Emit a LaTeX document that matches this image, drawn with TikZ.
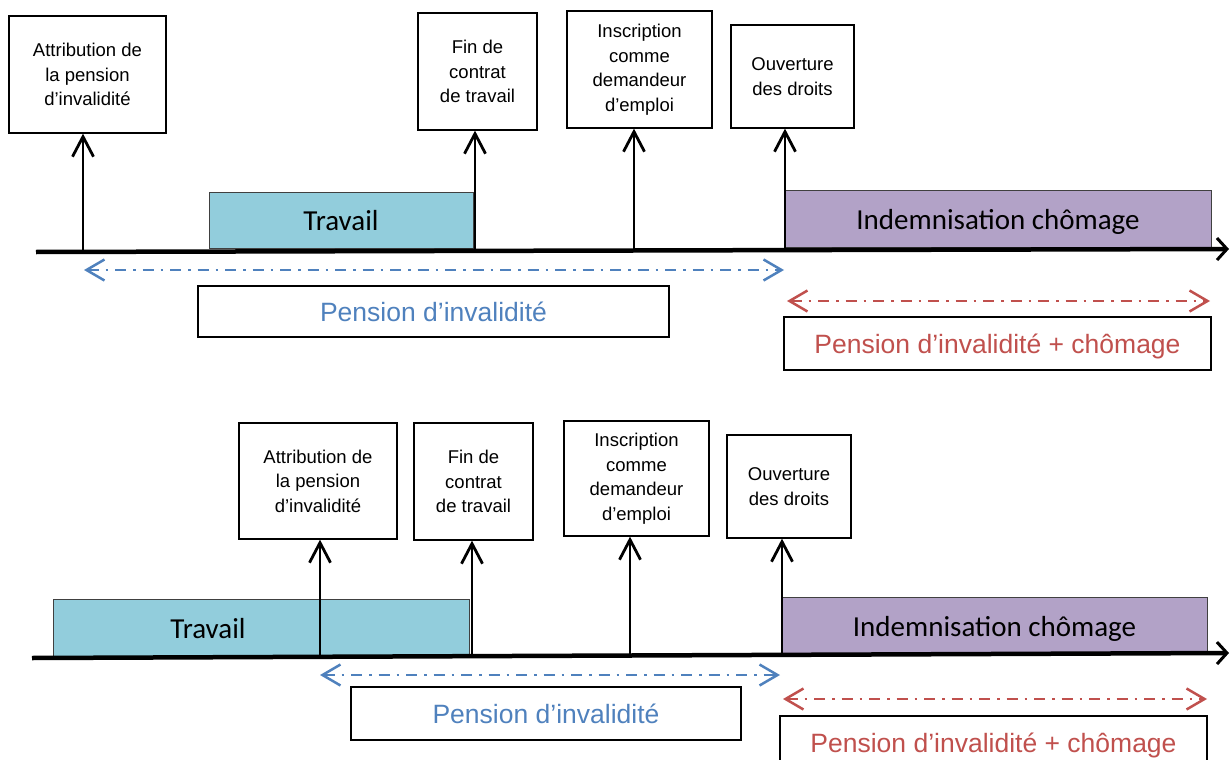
\documentclass[tikz,border=0pt]{standalone}
\usepackage{fontspec}
\setmainfont{Liberation Sans}
\newfontfamily\calibri{Carlito}
\usetikzlibrary{arrows.meta}
\definecolor{tblue}{HTML}{92CDDC}
\definecolor{tpurple}{HTML}{B2A2C7}
\definecolor{pblue}{HTML}{4F81BD}
\definecolor{pred}{HTML}{C0504D}
\begin{document}
\begin{tikzpicture}[x=1pt,y=-1pt,
  evbox/.style={draw=black, line width=1.3pt, align=center, inner sep=0pt,
    font=\fontsize{18.5}{24.5}\selectfont},
  period/.style={draw=black!75, line width=1pt, inner sep=0pt,
    text height=21.5pt, text depth=0pt,
    font=\calibri\fontsize{29}{34}\selectfont},
  pbox/.style={draw=black, line width=1.3pt, inner sep=0pt,
    text height=25pt, text depth=5.5pt,
    font=\fontsize{26.5}{30}\selectfont},
  evarrow/.style={line width=2.8pt, -{Straight Barb[length=20pt,width=21pt,line width=2.8pt]}},
  axisline/.style={line width=4.5pt, -{Straight Barb[length=10pt,width=22pt,line width=3pt]}},
  spanarrow/.style={line width=2.5pt, dash pattern=on 11pt off 7pt on 2.5pt off 7pt,
    {Straight Barb[length=18pt,width=21pt,line width=2.5pt]}-{Straight Barb[length=18pt,width=21pt,line width=2.5pt]}}
]
\useasboundingbox (0,0) rectangle (1232,760);

% ---------------- top timeline ----------------
\node[evbox, minimum width=157pt, minimum height=117pt] (a1) at (87.5,74.5)
  {Attribution de\\la pension\\d’invalidité};
\node[evbox, minimum width=119pt, minimum height=117pt] (a2) at (477.5,71.5)
  {Fin de\\contrat\\de travail};
\node[evbox, minimum width=145pt, minimum height=117pt] (a3) at (639.5,69.5)
  {Inscription\\comme\\demandeur\\d’emploi};
\node[evbox, minimum width=123pt, minimum height=103pt] (a4) at (792.5,76.5)
  {Ouverture\\des droits};

\node[period, fill=tblue, minimum width=264pt, minimum height=56pt] (tw) at (341,220) {Travail};
\node[period, fill=tpurple, minimum width=426pt, minimum height=57pt] (ti) at (998,218.5) {Indemnisation chômage};

\coordinate (tax0) at (36,252);
\coordinate (tax1) at (1229,249);
\draw[axisline] (tax0) -- (tax1);

\coordinate (t1) at (83,251);
\coordinate (t2) at (475,250);
\coordinate (t3) at (634,250);
\coordinate (t4) at (785,250);
\draw[evarrow] (t1) -- (t1 |- a1.south);
\draw[evarrow] (t2) -- (t2 |- a2.south);
\draw[evarrow] (t3) -- (t3 |- a3.south);
\draw[evarrow] (t4) -- (t4 |- a4.south);

\coordinate (tb0) at (84,270);
\coordinate (tb1) at (784,270);
\draw[spanarrow, pblue] (tb0) -- (tb1);
\node[pbox, text=pblue, minimum width=471pt, minimum height=51pt] (tp) at (433.5,311.5) {Pension d’invalidité};

\coordinate (tr0) at (787,301);
\coordinate (tr1) at (1210,301);
\draw[spanarrow, pred] (tr0) -- (tr1);
\node[pbox, text=pred, minimum width=427pt, minimum height=53pt] (tpr) at (997.5,343.5) {Pension d’invalidité + chômage};

% ---------------- bottom timeline ----------------
\node[evbox, minimum width=158pt, minimum height=116pt] (b1) at (318,481)
  {Attribution de\\la pension\\d’invalidité};
\node[evbox, minimum width=119pt, minimum height=117pt] (b2) at (473.5,481.5)
  {Fin de\\contrat\\de travail};
\node[evbox, minimum width=145pt, minimum height=115pt] (b3) at (636.5,478.5)
  {Inscription\\comme\\demandeur\\d’emploi};
\node[evbox, minimum width=124pt, minimum height=103pt] (b4) at (789,486.5)
  {Ouverture\\des droits};

\node[period, fill=tblue, minimum width=416pt, minimum height=57pt] (bw) at (261,627.5) {};
\node[font=\calibri\fontsize{29}{34}\selectfont, text height=21.5pt, text depth=0pt, inner sep=0pt] (bwl) at (208,628) {Travail};
\node[period, fill=tpurple, minimum width=425pt, minimum height=57pt] (bi) at (994.5,625.5) {Indemnisation chômage};

\coordinate (bax0) at (32,658);
\coordinate (bax1) at (1229,653);
\draw[axisline] (bax0) -- (bax1);

\coordinate (u1) at (320,657);
\coordinate (u2) at (472,656);
\coordinate (u3) at (630,655);
\coordinate (u4) at (782,654);
\draw[evarrow] (u1) -- (u1 |- b1.south);
\draw[evarrow] (u2) -- (u2 |- b2.south);
\draw[evarrow] (u3) -- (u3 |- b3.south);
\draw[evarrow] (u4) -- (u4 |- b4.south);

\coordinate (bb0) at (320,675);
\coordinate (bb1) at (780,675);
\draw[spanarrow, pblue] (bb0) -- (bb1);
\node[pbox, text=pblue, minimum width=390pt, minimum height=53pt] (bp) at (546,713.5) {Pension d’invalidité};

\coordinate (br0) at (783,699);
\coordinate (br1) at (1207,699);
\draw[spanarrow, pred] (br0) -- (br1);
\node[pbox, text=pred, minimum width=427pt, minimum height=53pt] (bpr) at (993.5,742.5) {Pension d’invalidité + chômage};
\end{tikzpicture}
\end{document}
